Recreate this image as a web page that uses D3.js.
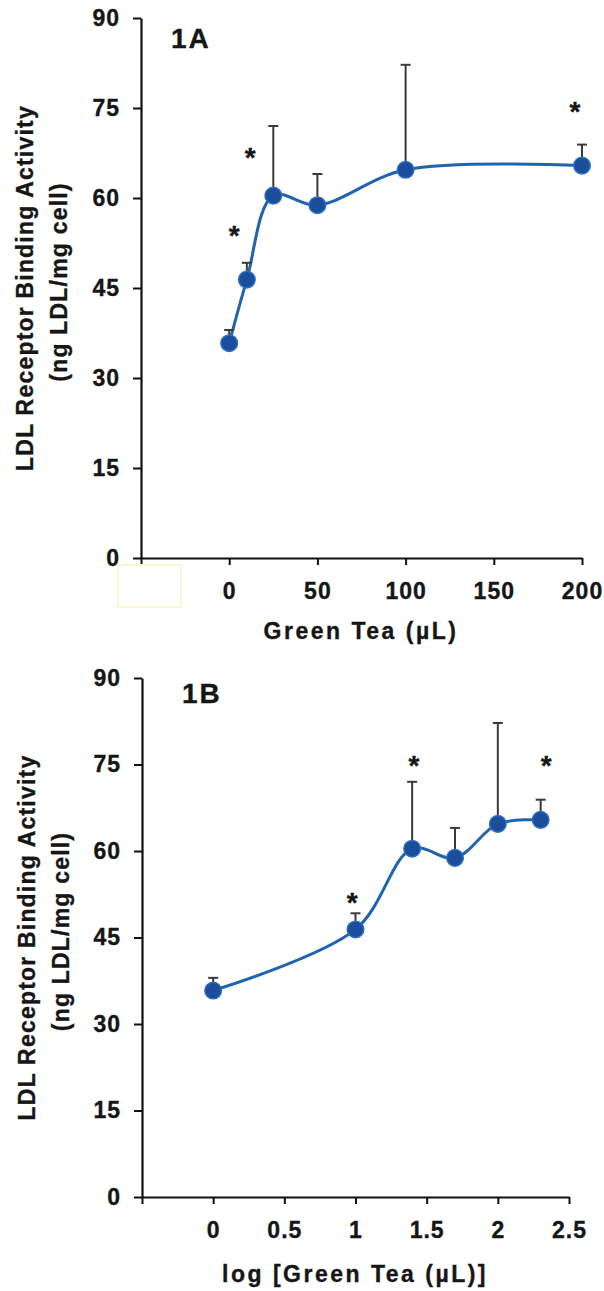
<!DOCTYPE html>
<html>
<head>
<meta charset="utf-8">
<script src="https://cdn.jsdelivr.net/npm/d3@7"></script>
<style>
  html, body { margin: 0; padding: 0; background: #fff; }
  svg { display: block; }
  text { font-family: "Liberation Sans", Arial, sans-serif; font-weight: bold; fill: #161616; stroke: #161616; stroke-width: 0.35px; }
</style>
</head>
<body>
<svg id="chart" width="604" height="1291"></svg>
<script>
// ---- data ----
const doses = [0, 10, 25, 50, 100, 200];               // Green Tea (µL)
const logDoses = [0, 1, 1.398, 1.699, 2, 2.301];       // log [Green Tea (µL)]
const means = [35.8, 46.4, 60.4, 58.8, 64.7, 65.4];    // LDL receptor binding activity
const errorTops = [38.0, 49.2, 72.0, 64.0, 82.2, 68.9];// mean + error
const starsA = [[2.8, 54.7], [11.9, 67.7], [196, 75.3]];
const starsB = [[0.976, 52.0], [1.41, 75.8], [2.34, 75.8]];
const yTicks = [0, 15, 30, 45, 60, 75, 90];
const xTicksA = [-50, 0, 50, 100, 150, 200];
const xTicksB = [-0.5, 0, 0.5, 1, 1.5, 2, 2.5];
const yTitle1 = "LDL Receptor Binding Activity";
const yTitle2 = "(ng LDL/mg cell)";

const svg = d3.select("#chart");
svg.append("rect").attr("width", 604).attr("height", 1291).attr("fill", "#fff");

const panels = [
  { label: "1A", xs: doses, xDomain: [-50, 200], xRange: [141, 582], yRange: [558, 18],
    xTicks: xTicksA, fmt: d => d < 0 ? "" : String(d), stars: starsA,
    xTitle: "Green Tea (\u00b5L)", xTitleX: 361, xTitleY: 638.5,
    labelX: 171, labelY: 48, yT1x: 33, yT2x: 67 },
  { label: "1B", xs: logDoses, xDomain: [-0.5, 2.5], xRange: [142, 569], yRange: [1197, 678],
    xTicks: xTicksB, fmt: d => d < 0 ? "" : String(d), stars: starsB,
    xTitle: "log [Green Tea (\u00b5L)]", xTitleX: 355, xTitleY: 1281.5,
    labelX: 182, labelY: 703, yT1x: 35, yT2x: 69 }
];

panels.forEach(p => {
  const x = d3.scaleLinear().domain(p.xDomain).range(p.xRange);
  const y = d3.scaleLinear().domain([0, 90]).range(p.yRange);
  const g = svg.append("g");

  // y axis
  const ya = g.append("g").attr("transform", `translate(${p.xRange[0]},0)`)
    .call(d3.axisLeft(y).tickValues(yTicks).tickSize(8).tickPadding(13).tickSizeOuter(0));
  // x axis
  const xa = g.append("g").attr("transform", `translate(0,${p.yRange[0]})`)
    .call(d3.axisBottom(x).tickValues(p.xTicks).tickFormat(p.fmt).tickSize(7).tickPadding(18).tickSizeOuter(0));
  [ya, xa].forEach(a => {
    a.selectAll("path.domain").attr("stroke", "#111").attr("stroke-width", 2.2);
    a.selectAll(".tick line").attr("stroke", "#111").attr("stroke-width", 2);
    a.selectAll(".tick text").attr("font-size", 23).attr("font-family", '"Liberation Sans", Arial, sans-serif')
      .attr("font-weight", "bold").attr("fill", "#161616").style("letter-spacing", "1px");
  });

  // smoothed line
  const pts = p.xs.map((d, i) => [d, means[i]]);
  g.append("path").datum(pts)
    .attr("fill", "none").attr("stroke", "#1f63b1").attr("stroke-width", 3)
    .attr("d", d3.line().x(d => x(d[0])).y(d => y(d[1])).curve(d3.curveCatmullRom.alpha(0.5)));

  // error bars (upper only)
  const eb = g.append("g").attr("stroke", "#3a3a3a").attr("stroke-width", 2);
  p.xs.forEach((d, i) => {
    eb.append("line").attr("x1", x(d)).attr("x2", x(d)).attr("y1", y(means[i])).attr("y2", y(errorTops[i]));
    eb.append("line").attr("x1", x(d) - 5).attr("x2", x(d) + 5).attr("y1", y(errorTops[i])).attr("y2", y(errorTops[i]));
  });

  // markers
  g.selectAll("circle.m").data(pts).enter().append("circle")
    .attr("cx", d => x(d[0])).attr("cy", d => y(d[1])).attr("r", 8.3)
    .attr("fill", "#1a4d9c").attr("stroke", "#2e6fc2").attr("stroke-width", 1.5);

  // significance stars
  g.selectAll("text.star").data(p.stars).enter().append("text")
    .attr("x", d => x(d[0])).attr("y", d => y(d[1]) + 15)
    .attr("text-anchor", "middle").attr("font-size", 28).text("*");

  // panel label
  g.append("text").attr("x", p.labelX).attr("y", p.labelY).attr("font-size", 28)
    .style("letter-spacing", "2px").text(p.label);

  // x title
  g.append("text").attr("x", p.xTitleX).attr("y", p.xTitleY).attr("text-anchor", "middle")
    .attr("font-size", 23).style("letter-spacing", "2.5px").text(p.xTitle);

  // y title
  const yc = (p.yRange[0] + p.yRange[1]) / 2;
  g.append("text").attr("transform", `translate(${p.yT1x},${yc}) rotate(-90)`)
    .attr("text-anchor", "middle").attr("font-size", 23).style("letter-spacing", "1.2px").text(yTitle1);
  g.append("text").attr("transform", `translate(${p.yT2x},${yc - 6}) rotate(-90)`)
    .attr("text-anchor", "middle").attr("font-size", 23).style("letter-spacing", "1.2px").text(yTitle2);
});

// faint scan artifact box under panel A axis
svg.append("rect").attr("x", 118).attr("y", 565).attr("width", 63).attr("height", 42)
  .attr("fill", "none").attr("stroke", "#fbf6d2").attr("stroke-width", 2);
</script>
</body>
</html>
